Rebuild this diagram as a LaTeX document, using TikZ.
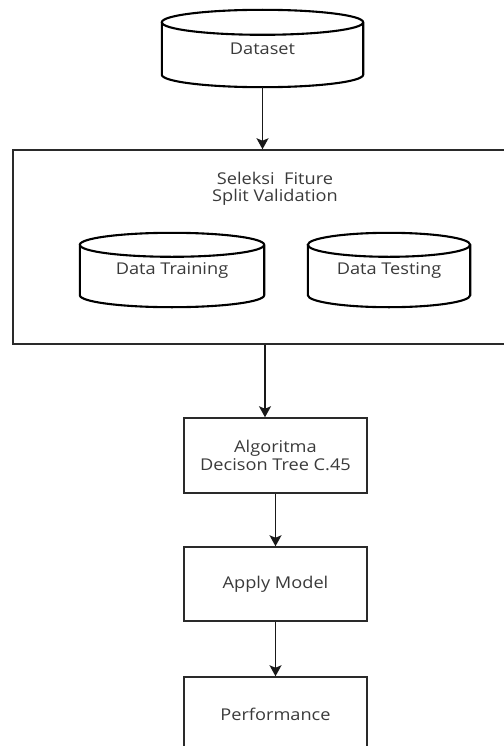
\documentclass[tikz,border=0pt]{standalone}
\usepackage{fontspec}
\usetikzlibrary{arrows.meta,calc}
\newfontfamily\labelfont[FakeStretch=1.12]{Open Sans}
\definecolor{inkgray}{HTML}{3A3A3A}
\definecolor{linegray}{HTML}{2A2A2A}

% outline of a database cylinder fitted to a node's box; #2 = cap half-height
\newcommand\cylframe[2]{%
  \draw[cylline] let \p1=(#1.north west), \p2=(#1.south east), \n1={(\x2-\x1)/2} in
    (\x1,\y1-#2) -- (\x1,\y2+#2)
    arc[start angle=180, end angle=360, x radius=\n1, y radius=#2]
    -- (\x2,\y1-#2)
    arc[start angle=0, end angle=360, x radius=\n1, y radius=#2];
}

\begin{document}
\begin{tikzpicture}[x=1bp, y=-1bp,
  txt/.style={font=\labelfont\fontsize{16.3}{17.5}\selectfont, text=inkgray, align=center},
  cylnode/.style={txt, inner sep=0pt},
  cylline/.style={draw=black, line width=2.1bp},
  procbox/.style={txt, draw=linegray, line width=1.5bp, inner sep=0pt,
                  minimum width=183bp, minimum height=75bp},
  container/.style={draw=linegray, line width=1.5bp, inner sep=0pt},
  flow/.style={draw=black!90, line width=1.6bp, -{Stealth[length=11bp, width=12bp, inset=2.5bp]}}
]
\useasboundingbox (0,0) rectangle (504,746);
\clip (0,0) rectangle (504,746);

% input data set
\node[cylnode, minimum width=201bp, minimum height=77bp] (dataset) at (262.5,48.5) {\raisebox{-3bp}{Dataset}};
\cylframe{dataset}{12.5bp}

% feature selection / split validation container
\node[container, minimum width=522bp, minimum height=194bp] (split) at (274,247) {};
\node[txt] (splittitle) at (275,189) {Seleksi\ \ Fiture\\Split Validation};

\node[cylnode, minimum width=184bp, minimum height=74bp] (train) at (172,270) {\raisebox{-2bp}{Data Training}};
\cylframe{train}{12bp}
\node[cylnode, minimum width=162bp, minimum height=74bp] (test) at (389,270) {\raisebox{-2bp}{Data Testing}};
\cylframe{test}{12bp}

% processing steps
\node[procbox] (algo) at (275.5,455.5) {Algoritma\\Decison Tree C.45};
\node[procbox, minimum height=74bp] (apply) at (275.5,584) {Apply Model};
\node[procbox, minimum height=74bp] (perf) at (275.5,714) {Performance};

% connectors
\draw[flow] (dataset.south) -- (dataset.south |- split.north);
\coordinate (splitout) at ($(split.south)+(-9,0)$);
\draw[flow] (splitout) -- (splitout |- algo.north);
\draw[flow] (algo.south) -- (apply.north);
\draw[flow] (apply.south) -- (perf.north);
\end{tikzpicture}
\end{document}
